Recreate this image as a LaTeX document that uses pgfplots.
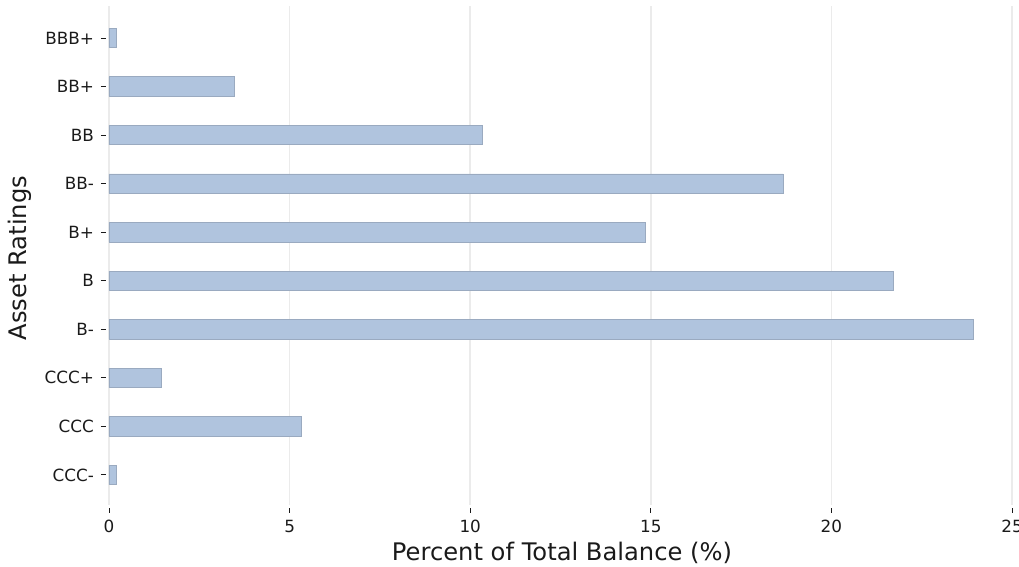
\documentclass[border=0pt]{standalone}
\usepackage{pgfplots}
\pgfplotsset{compat=1.18}
\usepackage{fontspec}
\setmainfont{DejaVu Sans}
\definecolor{barfill}{HTML}{B0C4DE}
\definecolor{baredge}{HTML}{9AAAC0}
\definecolor{gridc}{HTML}{EBEBEB}
\definecolor{ink}{HTML}{1A1A1A}
\begin{document}
\begin{tikzpicture}
\begin{axis}[
    scale only axis,
    width=451.5pt,
    height=249.5pt,
    xmin=0, xmax=25,
    ymin=-0.62, ymax=9.66,
    xbar,
    bar width=0.4,
    xtick={0,5,10,15,20,25},
    ytick={0,...,9},
    yticklabels={CCC-,CCC,CCC+,B-,B,B+,BB-,BB,BB+,BBB+},
    xtick pos=left, ytick pos=left,
    tick align=outside,
    major tick length=2.5pt,
    xtick style={ink, line width=0.4pt, yshift=-1.5pt},
    ytick style={ink, line width=0.4pt, xshift=-1.5pt},
    axis line style={draw=none},
    xmajorgrids,
    grid style={gridc, line width=0.75pt},
    tick label style={font=\fontsize{8.4}{10}\selectfont, text=ink},
    /pgf/number format/assume math mode=true,
    xticklabel style={yshift=-1.5pt},
    yticklabel style={xshift=-1.5pt},
    xlabel={Percent of Total Balance (\%)},
    ylabel={Asset Ratings},
    label style={font=\fontsize{12.1}{14}\selectfont, text=ink},
    xlabel style={at={(axis description cs:0.5017,-0.097)}, anchor=center},
    ylabel style={at={(axis description cs:-0.0986,0.495)}, anchor=center},
]
\addplot[fill=barfill, draw=baredge, line width=0.4pt] coordinates {
    (0.21,0) (5.34,1) (1.46,2) (23.92,3) (21.72,4)
    (14.84,5) (18.66,6) (10.33,7) (3.46,8) (0.21,9)
};
\end{axis}
\pgfresetboundingbox
\path[use as bounding box] (-54.5pt,-31pt) rectangle (455pt,252.5pt);
\end{tikzpicture}
\end{document}
